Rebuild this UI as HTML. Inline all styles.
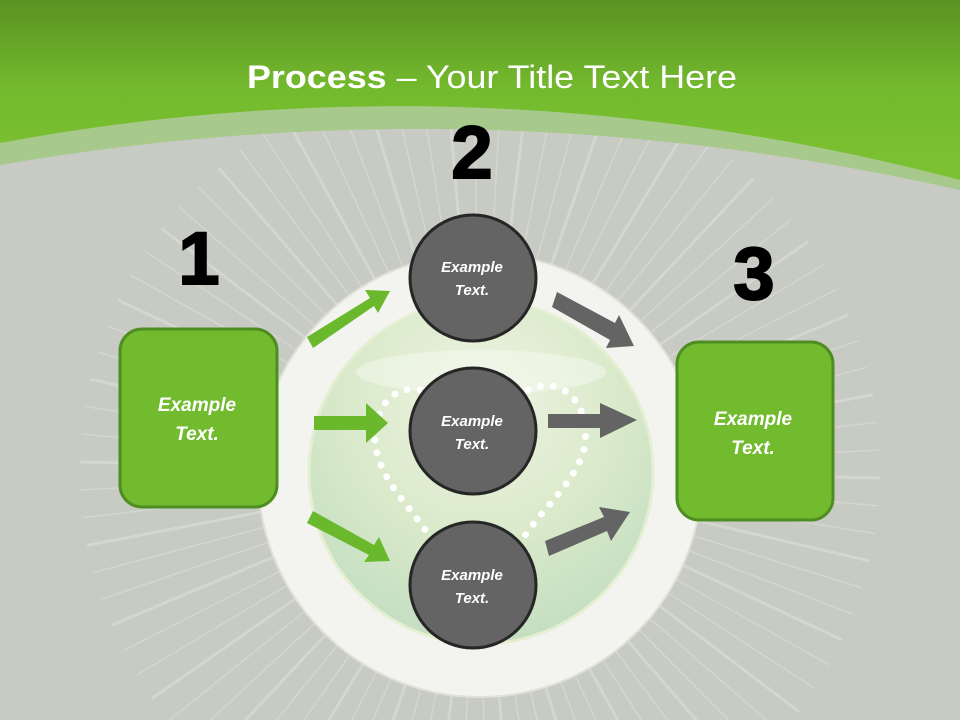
<!DOCTYPE html>
<html><head><meta charset="utf-8"><style>
html,body{margin:0;padding:0;width:960px;height:720px;overflow:hidden;background:#c8cac4}
svg{display:block}
text{font-family:"Liberation Sans",sans-serif}
</style></head><body>
<svg id="s" width="960" height="720" viewBox="0 0 960 720" xmlns="http://www.w3.org/2000/svg">
<defs>
<linearGradient id="hg" x1="0" y1="0" x2="0" y2="1">
<stop offset="0" stop-color="#5a9222"/><stop offset="0.5" stop-color="#74ba2e"/><stop offset="1" stop-color="#7cc232"/>
</linearGradient>
<radialGradient id="ig" cx="0.5" cy="0.3" r="0.75">
<stop offset="0" stop-color="#f0f4e2"/><stop offset="0.55" stop-color="#d8e9c9"/><stop offset="1" stop-color="#c0dcc0"/>
</radialGradient>
<clipPath id="cl"><rect x="0" y="0" width="960" height="720"/></clipPath>
</defs>
<rect width="960" height="720" fill="#c8cac4"/>
<g id="rays" stroke="#dcded8" stroke-opacity="0.6" clip-path="url(#cl)"></g>
<path d="M0,0 H960 V190 Q480,82 0,165 Z" fill="#a8c98c"/>
<path d="M0,0 H960 V180 Q480,54 0,143 Z" fill="url(#hg)"/>
<text x="492" y="88" text-anchor="middle" font-size="32" fill="#fff" textLength="490" lengthAdjust="spacingAndGlyphs"><tspan font-weight="bold">Process</tspan> – Your Title Text Here</text>

<circle cx="480" cy="475" r="222" fill="#f3f4ef" stroke="#e0e2da" stroke-width="2"/>
<circle cx="481" cy="472" r="172" fill="url(#ig)" stroke="#e4eed0" stroke-width="3"/>
<ellipse cx="481" cy="372" rx="125" ry="22" fill="#fff" opacity="0.35"/>
<path d="M420,390 C390,385 375,410 375,440 C378,480 410,505 432,540 M528,390 C560,375 590,400 585,445 C578,480 545,505 522,540" fill="none" stroke="#fff" stroke-width="7" stroke-linecap="round" stroke-dasharray="0 13"/>

<rect x="120" y="329" width="157" height="178" rx="22" fill="#72bb2f" stroke="#4e8d22" stroke-width="3"/>
<rect x="677" y="342" width="156" height="178" rx="22" fill="#72bb2f" stroke="#4e8d22" stroke-width="3"/>
<g font-size="19" font-weight="bold" font-style="italic" fill="#fff" text-anchor="middle">
<text x="197" y="411">Example</text><text x="197" y="440">Text.</text>
<text x="753" y="425">Example</text><text x="753" y="454">Text.</text>
</g>
<g font-size="74" font-weight="bold" fill="#000" text-anchor="middle" stroke="#000" stroke-width="2">
<text x="199" y="284">1</text><text x="472" y="178">2</text><text x="754" y="299">3</text>
</g>

<g fill="#6ab82c">
<polygon points="307,337 370,298 365,290 390,291 378,313 374,306 313,348"/>
<polygon points="314,416 366,416 366,403 388,423 366,443 366,430 314,430"/>
<polygon points="313,511 374,545 379,537 390,561 364,562 369,555 307,523"/>
</g>
<g fill="#646464">
<polygon points="557,292 615,323 619,315 634,346 606,348 610,340 552,307"/>
<polygon points="548,414 600,414 600,403 637,420 600,438 600,428 548,428"/>
<polygon points="545,541 604,517 599,507 630,512 611,541 607,531 549,556"/>
</g>

<g stroke="#262626" stroke-width="3" fill="#646464">
<circle cx="473" cy="278" r="63"/><circle cx="473" cy="431" r="63"/><circle cx="473" cy="585" r="63"/>
</g>
<g font-size="15" font-weight="bold" font-style="italic" fill="#fff" text-anchor="middle">
<text x="472" y="272">Example</text><text x="472" y="295">Text.</text>
<text x="472" y="426">Example</text><text x="472" y="449">Text.</text>
<text x="472" y="580">Example</text><text x="472" y="603">Text.</text>
</g>
</svg>
<script>
var g=document.getElementById('rays'),cx=480,cy=470;
for(var i=0;i<90;i++){var a=i*Math.PI*2/90+0.02;var w=(i%3==0)?3:1.5;
var l=document.createElementNS('http://www.w3.org/2000/svg','line');
l.setAttribute('x1',cx+Math.cos(a)*150);l.setAttribute('y1',cy+Math.sin(a)*150);
l.setAttribute('x2',cx+Math.cos(a)*400);l.setAttribute('y2',cy+Math.sin(a)*400);
l.setAttribute('stroke-width',w);g.appendChild(l);}
</script>
</body></html>
